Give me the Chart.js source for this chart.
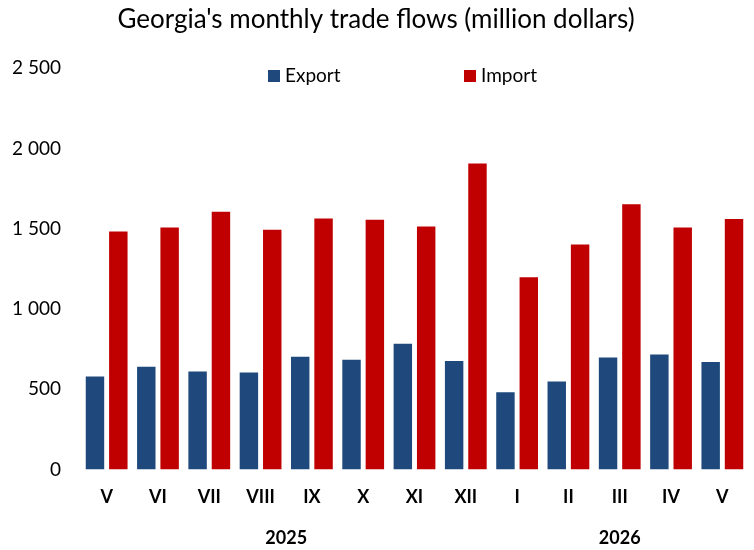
<!DOCTYPE html>
<html>
<head>
<meta charset="utf-8">
<script src="https://cdn.jsdelivr.net/npm/chart.js@4.4.1/dist/chart.umd.min.js"></script>
<style>
  html, body { margin: 0; padding: 0; background: #fff; }
  #wrap { width: 754px; height: 550px; }
</style>
</head>
<body>
<div id="wrap"><canvas id="tradeChart" width="754" height="550"></canvas></div>
<script>
// months shown on the axis
const months = ['V', 'VI', 'VII', 'VIII', 'IX', 'X', 'XI', 'XII', 'I', 'II', 'III', 'IV', 'V'];
// million dollars
const exportValues = [579, 639, 610, 604, 702, 683, 783, 675, 481, 548, 698, 716, 669];
const importValues = [1483, 1508, 1606, 1494, 1563, 1556, 1514, 1906, 1198, 1402, 1652, 1508, 1560];
// year groups below the month labels (first and last month index)
const years = ['2025', '2026'];
const yearFirst = [0, 8];
const yearLast = [7, 12];
const yTicks = [0, 500, 1000, 1500, 2000, 2500];

const FONT = 'Lato, "Open Sans", sans-serif';

// legend drawn inside the plot area, like the original
const innerLegend = {
    id: 'innerLegend',
    afterDraw(chart, args, opts) {
        const ctx = chart.ctx;
        ctx.save();
        ctx.font = '19px ' + FONT;
        ctx.textBaseline = 'middle';
        chart.data.datasets.forEach((ds, i) => {
            const x = opts.xs[i];
            ctx.fillStyle = ds.backgroundColor;
            ctx.fillRect(x, opts.y - 6, 12, 12);
            ctx.fillStyle = '#000';
            ctx.fillText(ds.label, x + 17, opts.y);
        });
        ctx.restore();
    }
};

// year labels centred under their months
const yearLabels = {
    id: 'yearLabels',
    afterDraw(chart, args, opts) {
        const ctx = chart.ctx;
        const xs = chart.scales.x;
        ctx.save();
        ctx.font = 'bold 18px ' + FONT;
        ctx.fillStyle = '#000';
        ctx.textAlign = 'center';
        ctx.textBaseline = 'middle';
        years.forEach((y, i) => {
            const cx = (xs.getPixelForValue(yearFirst[i]) + xs.getPixelForValue(yearLast[i])) / 2;
            ctx.fillText(y, cx, chart.chartArea.bottom + opts.offset);
        });
        ctx.restore();
    }
};

new Chart(document.getElementById('tradeChart'), {
    type: 'bar',
    data: {
        labels: months,
        datasets: [
            {
                label: 'Export',
                data: exportValues,
                backgroundColor: '#1F497D',
                categoryPercentage: 0.91,
                barPercentage: 0.79
            },
            {
                label: 'Import',
                data: importValues,
                backgroundColor: '#C00000',
                categoryPercentage: 0.91,
                barPercentage: 0.79
            }
        ]
    },
    options: {
        responsive: false,
        animation: false,
        layout: { padding: { left: 4, right: 6, bottom: 25, top: 0 } },
        plugins: {
            legend: { display: false },
            tooltip: { enabled: false },
            title: {
                display: true,
                text: "Georgia's monthly trade flows (million dollars)",
                color: '#000',
                font: { family: FONT, size: 26, weight: 'normal' },
                padding: { top: 4, bottom: 33 }
            },
            innerLegend: { xs: [268, 464], y: 76 },
            yearLabels: { offset: 69 }
        },
        scales: {
            x: {
                grid: { display: false, drawTicks: false },
                border: { display: false },
                ticks: {
                    color: '#000',
                    padding: 17,
                    font: { family: FONT, size: 18, weight: 'bold' }
                }
            },
            y: {
                min: 0,
                max: 2500,
                afterBuildTicks: (scale) => { scale.ticks = yTicks.map(v => ({ value: v })); },
                afterFit: (scale) => { scale.width = 77; },
                grid: { display: false, drawTicks: false },
                border: { display: false },
                ticks: {
                    color: '#000',
                    padding: 20,
                    font: { family: FONT, size: 19 },
                    callback: (v) => String(v).replace(/\B(?=(\d{3})+(?!\d))/g, ' ')
                }
            }
        }
    },
    plugins: [innerLegend, yearLabels]
});
</script>
</body>
</html>
